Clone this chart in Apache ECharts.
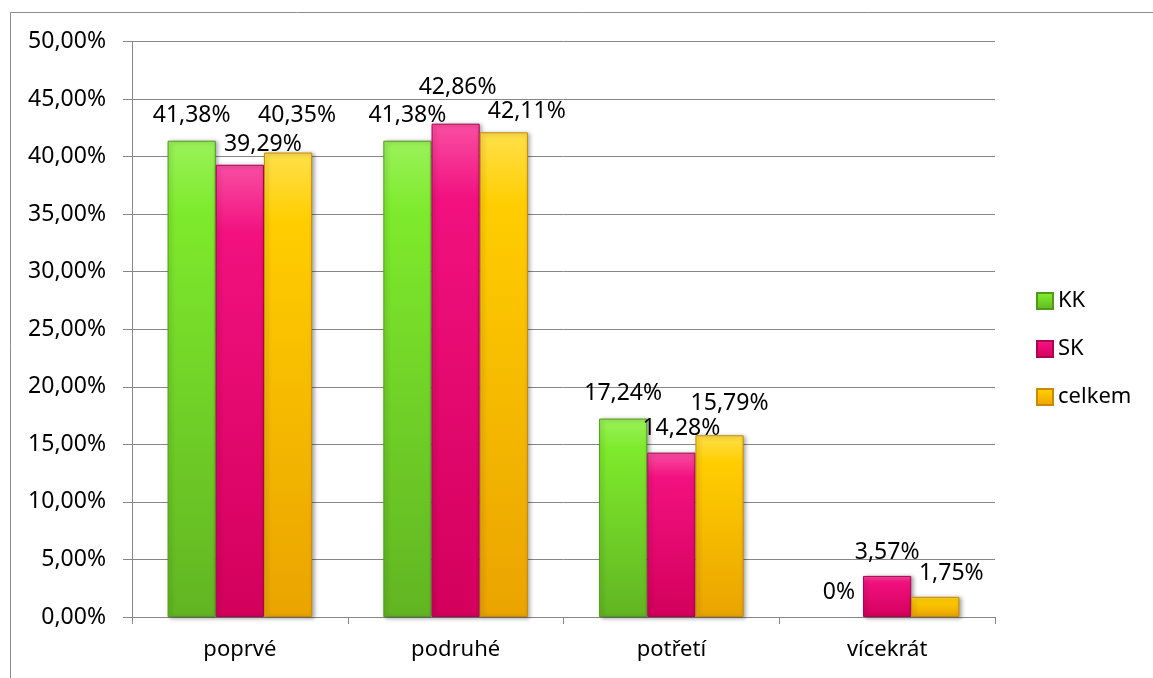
<!DOCTYPE html>
<html>
<head>
<meta charset="utf-8">
<script src="https://cdn.jsdelivr.net/npm/echarts@6/dist/echarts.min.js"></script>
<style>
html,body{margin:0;padding:0;background:#fff;}
#main{width:1153px;height:678px;}
</style>
</head>
<body>
<div id="main"></div>
<script>
const categories = ['poprvé', 'podruhé', 'potřetí', 'vícekrát'];
const seriesNames = ['KK', 'SK', 'celkem'];
const valuesKK = [41.38, 41.38, 17.24, 0];
const valuesSK = [39.29, 42.86, 14.28, 3.57];
const valuesCelkem = [40.35, 42.11, 15.79, 1.75];

const FONT = '"Noto Sans", "Open Sans", sans-serif';
function grad(top, mid, bottom) {
  return new echarts.graphic.LinearGradient(0, 0, 0, 1, [
    {offset: 0, color: top}, {offset: 0.15, color: mid}, {offset: 1, color: bottom}
  ]);
}
const colorsDef = [
  {fill: grad('#9af25a', '#7eea2c', '#62b522'), border: '#4f9a18'},
  {fill: grad('#f94ea3', '#f2117f', '#d3005c'), border: '#b0004e'},
  {fill: grad('#ffe04a', '#ffcd00', '#eba400'), border: '#c98a00'}
];
// label nudges (styling, as manually placed in the original): [dx, dy] per series & category
const labelNudge = [
  [[0, -3], [0, -3], [0, -3], [0, -2]],
  [[23, 2], [2, -14], [10, -2], [0, -1]],
  [[9, -15], [23, 2], [10, -9], [16, -1]]
];
function fmtLabel(v) {
  return v === 0 ? '0%' : v.toFixed(2).replace('.', ',') + '%';
}
const dataSets = [valuesKK, valuesSK, valuesCelkem];

const chart = echarts.init(document.getElementById('main'), null, {renderer: 'canvas'});
chart.setOption({
  animation: false,
  backgroundColor: '#ffffff',
  textStyle: {fontFamily: FONT},
  graphic: [{
    type: 'rect',
    shape: {x: 10.5, y: 12.5, width: 1160, height: 700},
    style: {fill: 'none', stroke: '#8c8c8c', lineWidth: 1},
    silent: true
  }],
  grid: {left: 132, right: 158, top: 41.5, bottom: 61, containLabel: false},
  legend: {
    orient: 'vertical',
    left: 1031,
    top: 284,
    itemWidth: 16,
    itemHeight: 16,
    itemGap: 24,
    icon: 'rect',
    textStyle: {fontFamily: FONT, fontSize: 22, color: '#000', lineHeight: 24},
    data: seriesNames
  },
  xAxis: {
    type: 'category',
    data: categories,
    axisLine: {lineStyle: {color: '#868686', width: 1}},
    axisTick: {show: true, length: 7, lineStyle: {color: '#868686'}},
    axisLabel: {fontFamily: FONT, fontSize: 22, color: '#000', margin: 22}
  },
  yAxis: {
    type: 'value',
    min: 0,
    max: 50,
    interval: 5,
    axisLine: {show: true, lineStyle: {color: '#868686', width: 1}},
    axisTick: {show: true, length: 9, inside: false, lineStyle: {color: '#868686'}},
    splitLine: {show: true, lineStyle: {color: '#868686', width: 1}},
    axisLabel: {
      fontFamily: FONT, fontSize: 23, color: '#000', margin: 26,
      formatter: v => v.toFixed(2).replace('.', ',') + '%'
    }
  },
  series: seriesNames.map((name, i) => ({
    name: name,
    type: 'bar',
    data: dataSets[i].map((v, j) => {
      const item = {value: v, label: {offset: labelNudge[i][j]}};
      if (v === 0) item.itemStyle = {borderWidth: 0, color: 'rgba(0,0,0,0)', shadowColor: 'rgba(0,0,0,0)'};
      return item;
    }),
    barGap: '0%',
    barCategoryGap: '33%',
    itemStyle: {
      color: colorsDef[i].fill,
      borderColor: colorsDef[i].border,
      borderWidth: 1,
      shadowColor: 'rgba(0,0,0,0.35)',
      shadowBlur: 4,
      shadowOffsetX: 2,
      shadowOffsetY: 1
    },
    label: {
      show: true,
      position: 'top',
      distance: 11,
      fontFamily: FONT,
      fontSize: 23,
      color: '#000',
      formatter: p => fmtLabel(p.value)
    }
  }))
});
</script>
</body>
</html>
